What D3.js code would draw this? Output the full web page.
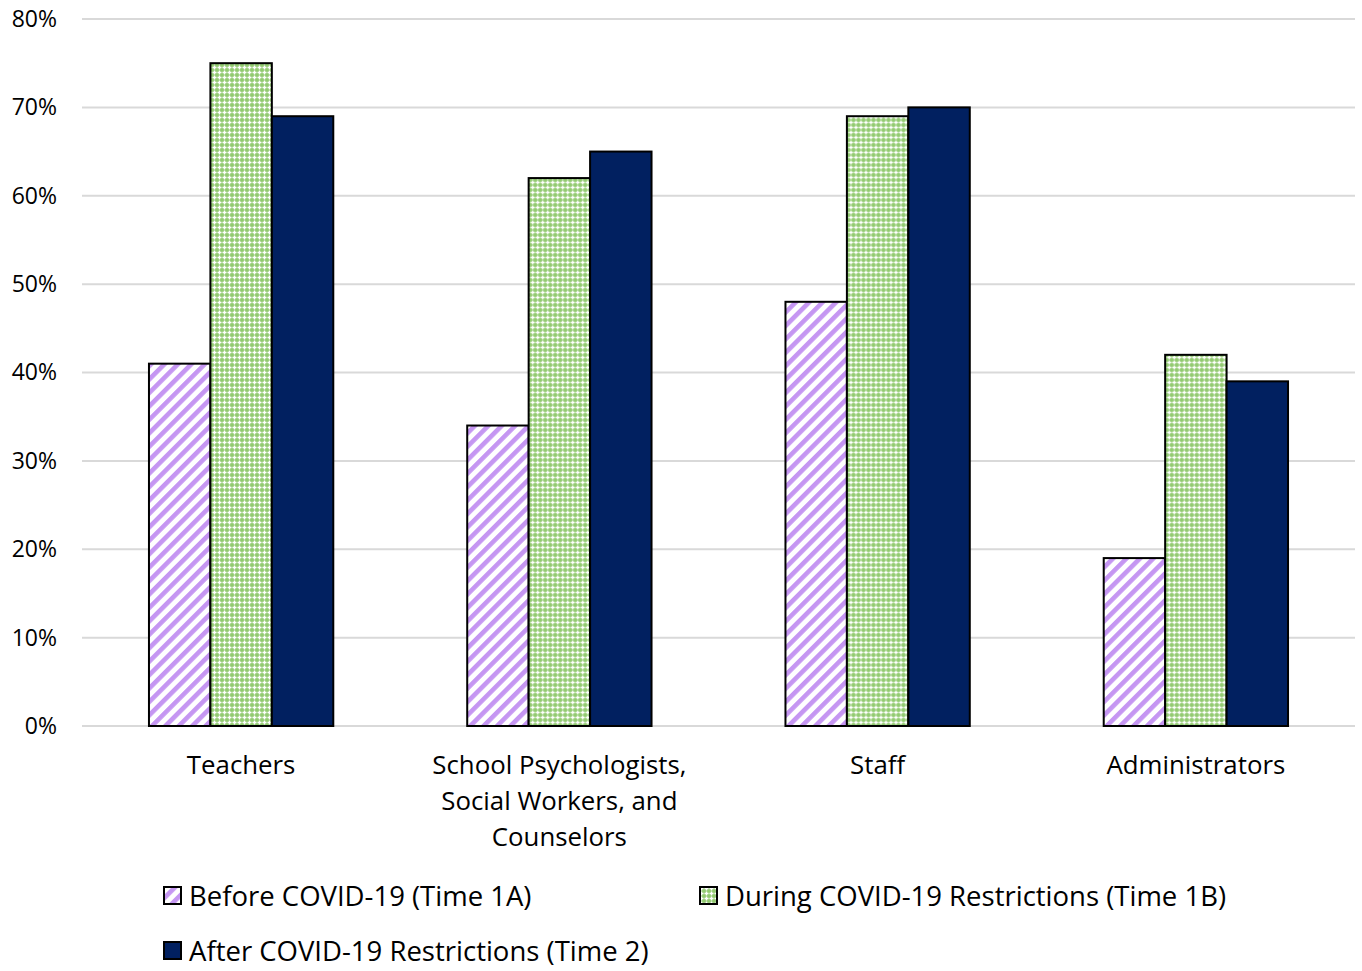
<!DOCTYPE html>
<html>
<head>
<meta charset="utf-8">
<script src="https://cdn.jsdelivr.net/npm/d3@7/dist/d3.min.js"></script>
<style>
  html, body { margin: 0; padding: 0; background: #fff; }
  text { font-family: "Open Sans", Lato, sans-serif; fill: #000; }
</style>
</head>
<body>
<svg id="chart" width="1362" height="971"></svg>
<script>
// Share of respondents by role, across three survey periods
const categories = [
  ["Teachers"],
  ["School Psychologists,", "Social Workers, and", "Counselors"],
  ["Staff"],
  ["Administrators"]
];
const seriesNames = [
  "Before COVID-19 (Time 1A)",
  "During COVID-19 Restrictions (Time 1B)",
  "After COVID-19 Restrictions (Time 2)"
];
const before = [41, 34, 48, 19];
const during = [75, 62, 69, 42];
const after  = [69, 65, 70, 39];
const yTicks = [0, 10, 20, 30, 40, 50, 60, 70, 80];

const svg = d3.select("#chart");
const margin = { left: 82, right: 1355, top: 19, bottom: 726 };

// fill patterns
const defs = svg.append("defs");
const stripe = defs.append("pattern")
  .attr("id", "pat-stripe").attr("patternUnits", "userSpaceOnUse")
  .attr("width", 9.5).attr("height", 9.5)
  .attr("patternTransform", "rotate(45)");
stripe.append("rect").attr("width", 9.5).attr("height", 9.5).attr("fill", "#fff");
stripe.append("rect").attr("x", 0).attr("width", 4.6).attr("height", 9.5).attr("fill", "#c596f2");

const lattice = defs.append("pattern")
  .attr("id", "pat-lattice").attr("patternUnits", "userSpaceOnUse")
  .attr("width", 5).attr("height", 5);
lattice.append("rect").attr("width", 5).attr("height", 5).attr("fill", "#92ca70");
lattice.append("path").attr("d", "M2.5,0.5 L2.5,4.5 M0.5,2.5 L4.5,2.5")
  .attr("stroke", "#fff").attr("stroke-width", 1.4);

const fills = ["url(#pat-stripe)", "url(#pat-lattice)", "#012060"];

const x0 = d3.scaleBand().domain(d3.range(categories.length))
  .range([margin.left, margin.right]).paddingInner(0).paddingOuter(0);
const x1 = d3.scaleBand().domain(d3.range(3))
  .range([0, x0.bandwidth()]).paddingInner(0).paddingOuter(1.09);
const y = d3.scaleLinear().domain([0, 80]).range([margin.bottom, margin.top]);

// gridlines
svg.append("g").selectAll("line").data(yTicks).join("line")
  .attr("x1", margin.left).attr("x2", margin.right)
  .attr("y1", d => y(d)).attr("y2", d => y(d))
  .attr("stroke", "#d9d9d9").attr("stroke-width", 2);

// y axis labels
const yAxis = d3.axisLeft(y).tickValues(yTicks).tickFormat(d => d + "%").tickSize(0).tickPadding(25);
const ya = svg.append("g").attr("transform", `translate(${margin.left},0)`).call(yAxis);
ya.select(".domain").remove();
ya.selectAll("text").style("font-size", "23px").attr("font-family", null);

// bars
const series = [before, during, after];
const rows = categories.map((c, i) => series.map((s, k) => ({ i, k, v: s[i] })));
svg.append("g").selectAll("g").data(rows).join("g")
  .attr("transform", (d, i) => `translate(${x0(i)},0)`)
  .selectAll("rect").data(d => d).join("rect")
  .attr("x", d => x1(d.k))
  .attr("width", x1.bandwidth())
  .attr("y", d => y(d.v))
  .attr("height", d => y(0) - y(d.v))
  .attr("fill", d => fills[d.k])
  .attr("stroke", "#000").attr("stroke-width", 2);

// category labels
const cat = svg.append("g").selectAll("text").data(categories).join("text")
  .attr("x", (d, i) => x0(i) + x0.bandwidth() / 2)
  .attr("y", 774)
  .attr("text-anchor", "middle")
  .style("font-size", "25.8px");
cat.selectAll("tspan").data(d => d).join("tspan")
  .attr("x", function () { return d3.select(this.parentNode).attr("x"); })
  .attr("dy", (d, j) => j === 0 ? 0 : 36)
  .text(d => d);

// legend
const legendPos = [[163, 896], [699, 896], [163, 951]];
const lg = svg.append("g").selectAll("g").data(seriesNames).join("g")
  .attr("transform", (d, i) => `translate(${legendPos[i][0]},${legendPos[i][1]})`);
lg.append("rect").attr("x", 1).attr("y", -9).attr("width", 17).attr("height", 17)
  .attr("fill", (d, i) => fills[i]).attr("stroke", "#000").attr("stroke-width", 2);
lg.append("text").attr("x", 26).attr("y", 9.5).style("font-size", "27.5px").text(d => d);
</script>
</body>
</html>
